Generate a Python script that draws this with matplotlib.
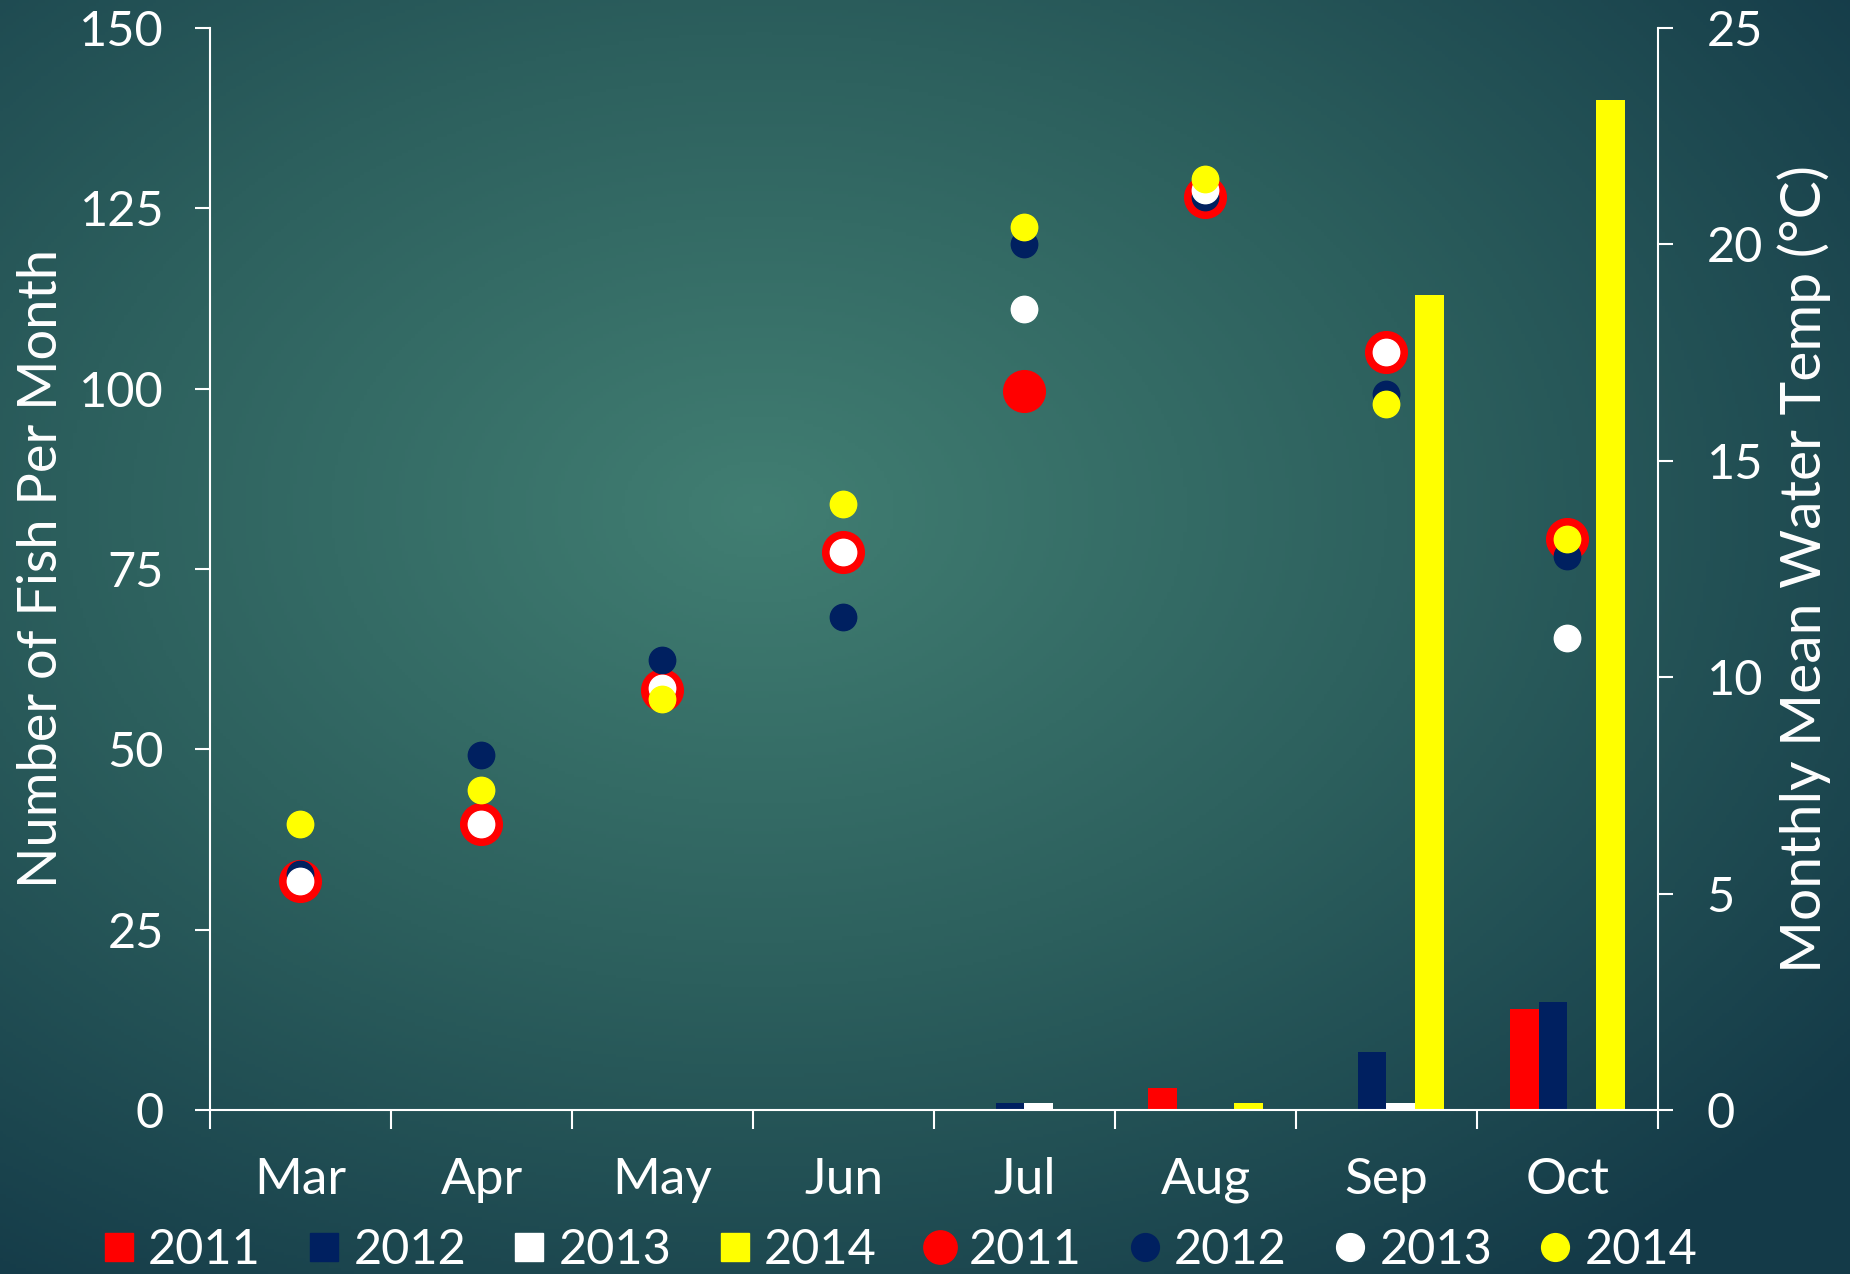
import numpy as np
import matplotlib.pyplot as plt
from matplotlib.colors import LinearSegmentedColormap
from matplotlib.lines import Line2D

plt.rcParams['font.family'] = ['Lato', 'DejaVu Sans']

months = ['Mar', 'Apr', 'May', 'Jun', 'Jul', 'Aug', 'Sep', 'Oct']
years = ['2011', '2012', '2013', '2014']
colors = ['#ff0000', '#002060', '#ffffff', '#ffff00']

# fish counts per month (left axis)
fish_2011 = [0, 0, 0, 0, 0, 3, 0, 14]
fish_2012 = [0, 0, 0, 0, 1, 0, 8, 15]
fish_2013 = [0, 0, 0, 0, 1, 0, 1, 0]
fish_2014 = [0, 0, 0, 0, 0, 1, 113, 140]

# monthly mean water temp (right axis)
temp_2011 = [5.3, 6.6, 9.7, 12.9, 16.6, 21.1, 17.5, 13.2]
temp_2012 = [5.45, 8.2, 10.4, 11.4, 20.0, 21.1, 16.55, 12.8]
temp_2013 = [5.3, 6.6, 9.75, 12.9, 18.5, 21.25, 17.5, 10.9]
temp_2014 = [6.6, 7.4, 9.5, 14.0, 20.4, 21.5, 16.3, 13.2]

fish = [fish_2011, fish_2012, fish_2013, fish_2014]
temps = [temp_2011, temp_2012, temp_2013, temp_2014]

fig = plt.figure(figsize=(18.5, 12.74), dpi=100)

# radial gradient background
bg = fig.add_axes([0, 0, 1, 1], zorder=-10)
yy, xx = np.mgrid[0:1:400j, 0:1:580j]
r = np.sqrt(((xx - 0.41) / 0.75) ** 2 + ((yy - 0.40) / 0.75) ** 2)
cmap = LinearSegmentedColormap.from_list('bg', ['#417e72', '#2c5f5d', '#143a48'])
bg.imshow(np.clip(r, 0, 1), cmap=cmap, aspect='auto', extent=[0, 1, 1, 0], vmin=0, vmax=1)
bg.axis('off')

ax = fig.add_axes([0.1135, 0.1287, 0.7827, 0.8495])
ax.patch.set_alpha(0)
x = np.arange(len(months))
w = 0.16
for k in range(4):
    ax.bar(x + (k - 2) * w, fish[k], width=w, align='edge', color=colors[k], zorder=2)

ax.set_xlim(-0.5, 7.5)
ax.set_ylim(0, 150)
ax.set_yticks(range(0, 151, 25))
ax.set_xticks(np.arange(-0.5, 8, 1))
ax.set_xticklabels([])
ax.set_xticks(x, minor=True)
ax.set_xticklabels(months, minor=True)
ax.tick_params(axis='x', which='major', length=14, width=1.5, color='white', direction='out')
ax.tick_params(axis='x', which='minor', length=0, pad=34, labelsize=37, labelcolor='white')
ax.tick_params(axis='y', length=11, width=1.5, color='white', pad=22, labelsize=35, labelcolor='white')
ax.set_ylabel('Number of Fish Per Month', fontsize=39, color='white', labelpad=10)
for s in ['top', 'right']:
    ax.spines[s].set_visible(False)
for s in ['left', 'bottom']:
    ax.spines[s].set_color('white')
    ax.spines[s].set_linewidth(1.5)

ax2 = ax.twinx()
ax2.set_ylim(0, 25)
ax2.set_yticks(range(0, 26, 5))
sizes = [30, 19, 19, 19]
for k in range(4):
    ax2.plot(x, temps[k], 'o', color=colors[k], markersize=sizes[k], zorder=3 + k)
ax2.tick_params(axis='y', length=11, width=1.5, color='white', pad=24, labelsize=35, labelcolor='white')
ax2.set_ylabel('Monthly Mean Water Temp (°C)', fontsize=41, color='white', labelpad=10)
for s in ['top', 'left', 'bottom']:
    ax2.spines[s].set_visible(False)
ax2.spines['right'].set_color('white')
ax2.spines['right'].set_linewidth(1.5)

handles = [Line2D([], [], marker='s', ls='', color=c, markersize=20) for c in colors]
handles += [Line2D([], [], marker='o', ls='', color=c, markersize=s)
            for c, s in zip(colors, [24, 20, 20, 20])]
leg = fig.legend(handles, years + years, loc='center', bbox_to_anchor=(0.487, 0.019), ncol=8,
                 frameon=False, fontsize=35, labelcolor='white', handlelength=0.6,
                 handletextpad=0.3, columnspacing=1.0, borderaxespad=0)

fig.savefig('out.png', dpi=100)
